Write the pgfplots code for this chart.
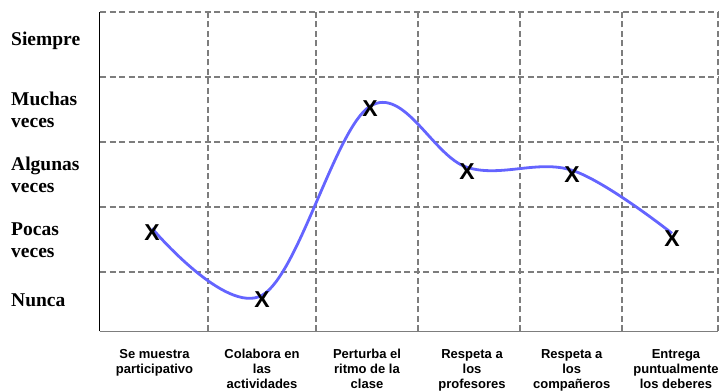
\documentclass[border=0pt]{standalone}
\usepackage{pgfplots}
\pgfplotsset{compat=1.18}
\usepackage{fontspec}
\setmainfont{Liberation Serif}
\setsansfont{Liberation Sans}
\usetikzlibrary{plotmarks}
\definecolor{curve}{RGB}{100,100,255}
\definecolor{gridgray}{RGB}{125,125,125}
\begin{document}
\begin{tikzpicture}
\useasboundingbox (-100pt,-60pt) rectangle (622pt,331.3pt);
\begin{axis}[
  name=ax, at={(0,0)}, anchor=south west,
  scale only axis, width=618pt, height=319.3pt,
  xmin=0, xmax=6, ymin=0.088, ymax=5,
  axis x line*=bottom, axis y line*=left,
  axis line style={-},
  x axis line style={draw=gridgray, line width=1.4pt},
  y axis line style={draw=black, line width=1pt},
  major tick length=0pt, minor tick length=0pt,
  xtick={0.529,1.573,2.592,3.612,4.58,5.592},
  xticklabels={{Se muestra\\participativo},{Colabora en\\las\\actividades},{Perturba el\\ritmo de la\\clase},{Respeta a\\los\\profesores},{Respeta a\\los\\compañeros},{Entrega\\puntualmente\\los deberes}},
  xticklabel style={font=\sffamily\bfseries\fontsize{13}{15}\selectfont, align=center, anchor=north, inner sep=0pt, yshift=-18pt},
  minor xtick={1.049,2.097,3.087,4.078,5.068,6},
  ytick={0.57,1.49,2.49,3.49,4.56},
  yticklabels={{Nunca},{Pocas\\veces},{Algunas\\veces},{Muchas\\veces},{Siempre}},
  yticklabel style={font=\rmfamily\bfseries\fontsize{19.5}{22}\selectfont, align=left, text width=88pt, anchor=west, inner sep=0pt, xshift=-89pt},
  minor ytick={1,2,3,4,5},
  xminorgrids, yminorgrids,
  minor grid style={draw=gridgray, line width=2.2pt, dash pattern=on 6pt off 3.5pt},
]
\addplot[color=curve, line width=2.8pt, smooth, tension=0.6] coordinates {
  (0.505,1.672) (1.573,0.642) (2.621,3.549) (3.563,2.611) (4.583,2.565) (5.553,1.595)
};
\addplot[only marks, mark=text, text mark={X}, text mark as node=true,
  text mark style={font=\sffamily\bfseries\fontsize{23}{23}\selectfont, inner sep=0pt, text=black}] coordinates {
  (0.505,1.611) (1.573,0.58) (2.621,3.518) (3.563,2.549) (4.583,2.503) (5.553,1.518)
};
\end{axis}
\end{tikzpicture}
\end{document}
